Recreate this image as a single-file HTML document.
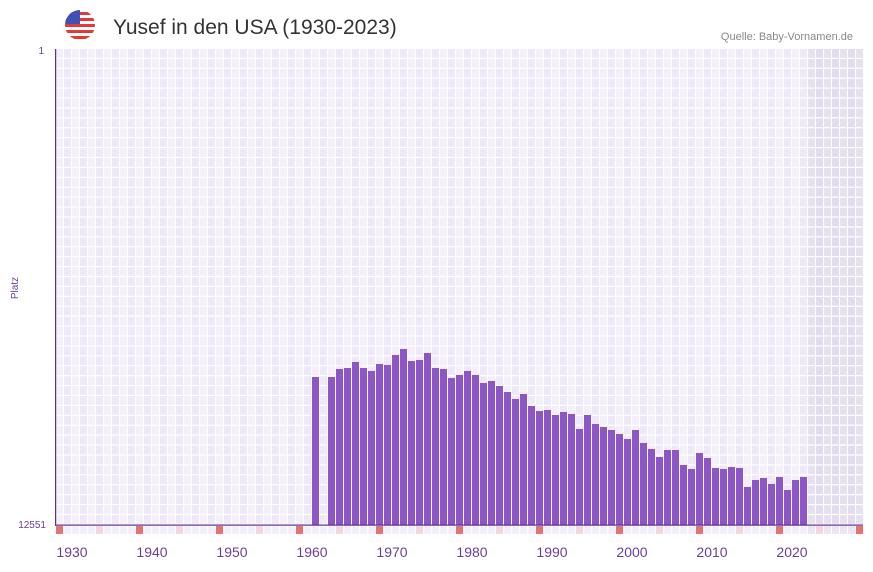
<!DOCTYPE html>
<html><head><meta charset="utf-8"><style>
body{margin:0;background:#fff;width:873px;height:567px;overflow:hidden;font-family:"Liberation Sans",sans-serif}
</style></head><body>
<svg width="873" height="567" xmlns="http://www.w3.org/2000/svg" font-family="Liberation Sans, sans-serif">
<defs>
<clipPath id="fc"><circle cx="80" cy="25" r="15"/></clipPath>
</defs>
<g clip-path="url(#fc)">
<rect x="65" y="10" width="30" height="30" fill="#fff"/>
<rect x="65" y="12" width="30" height="3" fill="#e53935"/>
<rect x="65" y="18" width="30" height="3" fill="#e53935"/>
<rect x="65" y="24" width="30" height="3" fill="#e53935"/>
<rect x="65" y="30" width="30" height="3" fill="#e53935"/>
<rect x="65" y="36" width="30" height="3" fill="#e53935"/>
<rect x="65" y="10" width="15" height="14" fill="#3f51b5"/>
</g>
<text x="113" y="34" font-size="21" fill="#333">Yusef in den USA (1930-2023)</text>
<text x="853" y="40" font-size="11" fill="#888" text-anchor="end">Quelle: Baby-Vornamen.de</text>
<g id="grid"></g>
<text x="44" y="54" font-size="10" fill="#6a3d9a" text-anchor="end">1</text>
<text x="46" y="528" font-size="10" fill="#6a3d9a" text-anchor="end">12551</text>
<text x="18" y="288" font-size="10" fill="#6a3d9a" text-anchor="middle" transform="rotate(-90 18 288)">Platz</text>
<g font-size="14" fill="#6a3d9a" text-anchor="middle">
<text x="72" y="557">1930</text><text x="152" y="557">1940</text><text x="232" y="557">1950</text>
<text x="312" y="557">1960</text><text x="392" y="557">1970</text><text x="472" y="557">1980</text>
<text x="552" y="557">1990</text><text x="632" y="557">2000</text><text x="712" y="557">2010</text>
<text x="792" y="557">2020</text>
</g>
</svg>
<script>
const g=document.getElementById('grid');const ns='http://www.w3.org/2000/svg';
function r(x,y,w,h,f){const e=document.createElementNS(ns,'rect');e.setAttribute('x',x);e.setAttribute('y',y);e.setAttribute('width',w);e.setAttribute('height',h);e.setAttribute('fill',f);g.appendChild(e);}
r(55,49,808,476,'#fff');
const rows=48,rh=476/rows;
for(let i=0;i<101;i++){const x=56+8*i;const sh=i>=94;
 for(let j=0;j<rows;j++){const c=sh?((i%2)?'#e2dcee':'#e6e1f0'):((i%2)?'#eee9f8':'#f3f0fb');r(x,49+j*rh,7,rh-1.2,c);}
 // markers
 let mc=(i%10==0)?'#e57373':(i%10==5?'#f3d6e0':(sh?'#ebe6f2':'#f3f0fb'));r(x,526,7,8,mc);
}
const tops={32:377,34:377,35:369,36:368,37:362,38:368,39:371,40:364,41:365,42:355,43:349,44:361,45:360,46:353,47:368,48:369,49:378,50:375,51:371,52:375,53:383,54:381,55:386,56:392,57:399,58:394,59:406,60:411,61:410,62:415,63:412,64:414,65:415,66:429,67:415,68:424,69:427,70:430,71:434,72:439,73:430,74:443,75:449,76:457,77:450,78:450,79:465,80:469,81:453,82:458,83:468,84:469,85:467,86:468,87:487,88:480,89:478,90:484,91:477,92:490,93:480};
// fix tail per zoom
Object.assign(tops,{86:487,87:480,88:478,89:484,90:477,91:490,92:480,93:477,62:415,63:412,64:414,65:429,66:415,67:424,68:427,69:430,70:434,71:439,72:430,73:443,74:449,75:457,76:450,77:450,78:465,79:469,80:453,81:458,82:468,83:469,84:467,85:468});
for(const k in tops){const x=56+8*k;r(x,tops[k],7,525-tops[k],'#8e55c7');}
r(55,49,1.2,477,'#5b2d8e');r(55,524.5,808,1.2,'#5b2d8e');
</script>
</body></html>
